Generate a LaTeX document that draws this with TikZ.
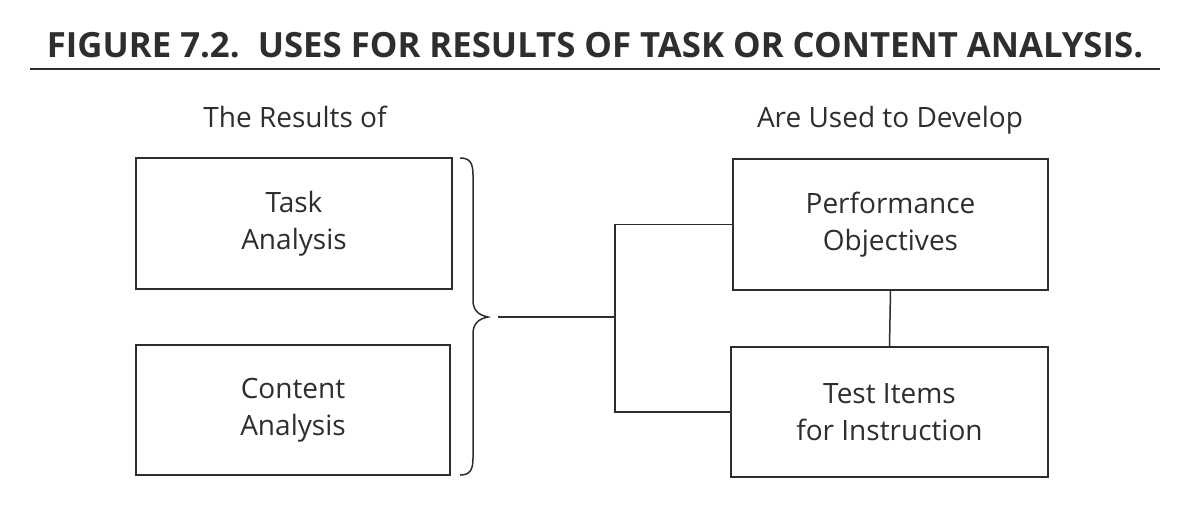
\documentclass[tikz,border=0pt]{standalone}
\usepackage{fontspec}
\usepackage{graphicx}
\setmainfont{Open Sans}
\definecolor{ink}{HTML}{2E2E2E}
\begin{document}
\begin{tikzpicture}[x=0.5pt,y=-0.5pt,
  box/.style={draw=ink, line width=0.75pt, inner sep=0pt, align=center,
    font=\fontsize{14pt}{18.5pt}\selectfont, text=ink},
  lbl/.style={font=\fontsize{14pt}{18pt}\selectfont, text=ink, inner sep=0pt},
  conn/.style={draw=ink, line width=0.75pt}]
\useasboundingbox[fill=white] (0,0) rectangle (1200,515);
\node[text=ink, inner sep=0pt] (title) at (595,45) {\resizebox{548pt}{12.6pt}{\bfseries FIGURE 7.2.\ \ USES FOR RESULTS OF TASK OR CONTENT ANALYSIS.}};
\coordinate (rl) at (30,69);
\coordinate (rr) at (1160,69);
\draw[conn, line width=1pt] (rl) -- (rr);
\node[lbl] (lres) at (295,117) {The Results of};
\node[lbl] (ldev) at (890,120) {Are Used to Develop};
\node[box, minimum width=158pt, minimum height=65.5pt] (task) at (294,223.5) {Task\\Analysis};
\node[box, minimum width=157pt, minimum height=65pt] (content) at (293,410) {Content\\Analysis};
\node[box, minimum width=157.5pt, minimum height=65.5pt] (perf) at (890.5,224.5) {Performance\\Objectives};
\node[box, minimum width=158.5pt, minimum height=65pt] (test) at (889.5,412) {Test Items\\for Instruction};
% brace
\coordinate (btip) at (488,317);
\draw[conn] (460,158) .. controls (470,158) and (473,163) .. (473,175)
  -- (473,300) .. controls (473,310) and (478,315) .. (btip)
  .. controls (478,319) and (473,324) .. (473,334)
  -- (473,458) .. controls (473,470) and (470,475) .. (460,475);
\coordinate (bs) at (498,317);
\coordinate (j) at (615,317);
\draw[conn] (bs) -- (j);
\draw[conn] (perf.west) -| (j) |- (test.west);
\draw[conn] (perf.south) -- (test.north);
\end{tikzpicture}
\end{document}
